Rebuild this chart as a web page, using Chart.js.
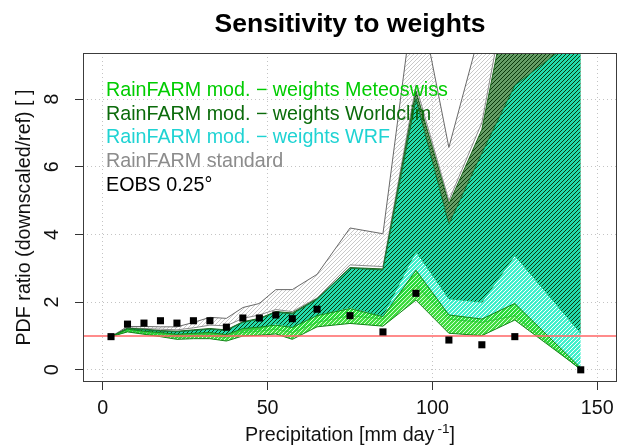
<!DOCTYPE html>
<html>
<head>
<meta charset="utf-8">
<script src="https://cdn.jsdelivr.net/npm/chart.js@4.4.0/dist/chart.umd.min.js"></script>
<style>
  html, body { margin: 0; padding: 0; background: #fff; }
  #wrap { width: 624px; height: 448px; }
</style>
</head>
<body>
<div id="wrap"><canvas id="chart" width="624" height="448"></canvas></div>
<script>
// precipitation classes [mm/day]
const precip = [2.5, 7.5, 12.5, 17.5, 22.5, 27.5, 32.5, 37.5, 42.5, 47.5, 52.5, 57.5, 65, 75, 85, 95, 105, 115, 125, 145];

// EOBS 0.25 reference ratio
const eobs = [0.98, 1.35, 1.38, 1.45, 1.38, 1.45, 1.45, 1.26, 1.53, 1.53, 1.62, 1.51, 1.79, 1.6, 1.12, 2.26, 0.88, 0.74, 0.98, 0.0];

// RainFARM standard (min / max of the ensemble)
const stdLow = [0.98, 1.24, 1.22, 1.2, 1.18, 1.24, 1.32, 1.3, 1.52, 1.62, 1.78, 1.72, 2.12, 3.1, 3.05, 8.4, 5.0, 7.3, 12.5, 16.5];
const stdUp  = [0.98, 1.28, 1.28, 1.27, 1.27, 1.4, 1.55, 1.52, 1.84, 1.96, 2.37, 2.37, 2.82, 4.19, 4.02, 11.5, 6.57, 10.2, 14.0, 18.0];

// RainFARM mod. - weights Worldclim
const wcLow = [0.98, 1.16, 1.1, 1.05, 1.0, 1.02, 1.04, 1.0, 1.15, 1.2, 1.37, 1.27, 1.62, 1.85, 1.6, 3.5, 2.1, 2.0, 3.38, 1.08];
const wcUp  = [0.98, 1.23, 1.2, 1.16, 1.14, 1.18, 1.22, 1.18, 1.42, 1.52, 1.72, 1.68, 2.1, 3.02, 2.98, 8.24, 4.9, 7.1, 12.0, 16.0];

// RainFARM mod. - weights WRF
const wrfLow = [0.98, 1.14, 1.07, 1.01, 0.96, 0.98, 1.0, 0.95, 1.1, 1.14, 1.2, 1.1, 1.4, 1.6, 1.5, 2.5, 1.5, 1.4, 1.6, 0.0];
const wrfUp  = [0.98, 1.21, 1.18, 1.14, 1.12, 1.16, 1.2, 1.16, 1.4, 1.5, 1.7, 1.65, 2.08, 3.0, 2.95, 8.0, 4.3, 6.4, 8.4, 9.9];

// RainFARM mod. - weights Meteoswiss
const msLow = [0.98, 1.12, 1.05, 0.98, 0.9, 0.92, 0.92, 0.85, 1.0, 1.02, 1.06, 0.9, 1.27, 1.37, 1.29, 2.06, 1.08, 1.01, 1.47, 0.02];
const msUp  = [0.98, 1.2, 1.14, 1.1, 1.05, 1.08, 1.1, 1.04, 1.22, 1.26, 1.32, 1.25, 1.6, 1.81, 1.57, 2.94, 1.62, 1.5, 1.96, 0.05];

const xTicks = [0, 50, 100, 150];
const yTicks = [0, 2, 4, 6, 8];
const xLim = [-6, 156];
const yLim = [-0.36, 9.36];
const refLevel = 1;

const legendItems = [
  ['RainFARM mod. \u2212 weights Meteoswiss', '#00cc00'],
  ['RainFARM mod. \u2212 weights Worldclim', '#0b6b0b'],
  ['RainFARM mod. \u2212 weights WRF', '#1fd3d3'],
  ['RainFARM standard', '#8c8c8c'],
  ['EOBS 0.25\u00b0', '#000000']
];

const FONT = '"Liberation Sans", Arial, Helvetica, sans-serif';
const FS = 19.7;
const canvas = document.getElementById('chart');
const ctx = canvas.getContext('2d');

// hatch tile: 4x4 with a 1px "/" stripe
function hatch(bg, stripe) {
  const c = document.createElement('canvas');
  c.width = 4; c.height = 4;
  const g = c.getContext('2d');
  if (bg) { g.fillStyle = bg; g.fillRect(0, 0, 4, 4); }
  for (let i = 0; i < 4; i++) {
    g.clearRect(i, 3 - i, 1, 1);
    if (stripe) { g.fillStyle = stripe; g.fillRect(i, 3 - i, 1, 1); }
  }
  return ctx.createPattern(c, 'repeat');
}

const patGrey = hatch(null, 'rgba(165,165,165,0.6)');
const patWc   = hatch('rgba(75,140,75,0.85)', '#0a3a0a');
const patWrf  = hatch('rgba(20,235,190,0.8)', null);
const patMs   = hatch('rgba(40,215,40,0.88)', 'rgba(170,255,170,0.5)');

function pts(ys) {
  return precip.map(function(x, i) { return { x: x, y: ys[i] }; });
}

function bandLine(ys, color, order, fillPat) {
  return {
    data: pts(ys),
    borderColor: color,
    borderWidth: 1,
    pointRadius: 0,
    tension: 0,
    order: order,
    fill: fillPat ? '-1' : false,
    backgroundColor: fillPat || 'transparent'
  };
}

const decor = {
  id: 'decor',
  beforeDraw(chart) {
    const c = chart.ctx;
    c.save();
    c.fillStyle = '#fff';
    c.fillRect(0, 0, chart.width, chart.height);
    c.restore();
  },
  afterDatasetsDraw(chart) {
    const a = chart.chartArea;
    const c = chart.ctx;
    c.save();
    c.strokeStyle = '#3c3c3c';
    c.lineWidth = 1;
    c.strokeRect(a.left + 0.5, a.top + 0.5, a.right - a.left - 1, a.bottom - a.top - 1);
    c.restore();
  },
  afterDraw(chart) {
    const c = chart.ctx;
    const a = chart.chartArea;
    const ys = chart.scales.y;
    c.save();
    c.fillStyle = '#000';
    // title
    c.font = 'bold 26.5px ' + FONT;
    c.textAlign = 'center';
    c.textBaseline = 'alphabetic';
    c.fillText('Sensitivity to weights', (a.left + a.right) / 2, 32);

    // legend (text only)
    c.font = FS + 'px ' + FONT;
    c.textAlign = 'left';
    legendItems.forEach(function(it, i) {
      c.fillStyle = it[1];
      c.fillText(it[0], 106, 96 + i * 23.7);
    });

    // y tick labels, parallel to axis
    c.fillStyle = '#111';
    yTicks.forEach(function(v) {
      c.save();
      c.translate(53, ys.getPixelForValue(v));
      c.rotate(-Math.PI / 2);
      c.textAlign = 'center';
      c.textBaseline = 'middle';
      c.fillText(String(v), 0, 0);
      c.restore();
    });

    // y axis title
    c.save();
    c.translate(25, (a.top + a.bottom) / 2);
    c.rotate(-Math.PI / 2);
    c.textAlign = 'center';
    c.textBaseline = 'middle';
    c.fillText('PDF ratio (downscaled/ref) [ ]', 0, 0);
    c.restore();

    // x axis title with superscript
    const main = 'Precipitation [mm day';
    const sup = '-1';
    const tail = ']';
    c.font = FS + 'px ' + FONT;
    const w1 = c.measureText(main).width;
    const w3 = c.measureText(tail).width;
    c.font = '13.5px ' + FONT;
    const w2 = c.measureText(sup).width + 3;
    const x0 = (a.left + a.right) / 2 - (w1 + w2 + w3) / 2;
    const base = 441;
    c.textAlign = 'left';
    c.textBaseline = 'alphabetic';
    c.font = FS + 'px ' + FONT;
    c.fillText(main, x0, base);
    c.font = '13.5px ' + FONT;
    c.fillText(sup, x0 + w1 + 3, base - 8);
    c.font = FS + 'px ' + FONT;
    c.fillText(tail, x0 + w1 + w2, base);
    c.restore();
  }
};

new Chart(ctx, {
  type: 'line',
  data: {
    datasets: [
      bandLine(stdLow, '#8a8a8a', 39, null),
      bandLine(stdUp, '#6a6a6a', 40, patGrey),
      bandLine(wcLow, '#1d6b1d', 29, null),
      bandLine(wcUp, '#1a651a', 30, patWc),
      bandLine(wrfLow, '#13804a', 19, null),
      bandLine(wrfUp, '#137a3a', 20, patWrf),
      bandLine(msLow, '#15841a', 9, null),
      bandLine(msUp, '#15841a', 10, patMs),
      {
        data: [{ x: xLim[0], y: refLevel }, { x: xLim[1], y: refLevel }],
        borderColor: '#ff6464',
        borderWidth: 1.6,
        pointRadius: 0,
        fill: false,
        order: 5
      },
      {
        data: pts(eobs),
        showLine: false,
        pointStyle: 'rect',
        pointRadius: 5,
        pointBackgroundColor: '#000',
        pointBorderWidth: 0,
        order: 0
      }
    ]
  },
  options: {
    responsive: false,
    devicePixelRatio: 1,
    animation: false,
    layout: { padding: { top: 53, right: 7, left: 0, bottom: 0 } },
    plugins: {
      legend: { display: false },
      tooltip: { enabled: false },
      title: { display: false }
    },
    scales: {
      x: {
        type: 'linear',
        min: xLim[0],
        max: xLim[1],
        afterBuildTicks: function(s) { s.ticks = xTicks.map(function(v) { return { value: v }; }); },
        afterFit: function(s) { s.height = 66; },
        ticks: {
          font: { family: FONT, size: FS },
          color: '#111',
          padding: 7,
          maxRotation: 0
        },
        grid: {
          color: '#c4c4c4',
          lineWidth: 1,
          tickLength: 8,
          tickColor: '#333',
          tickWidth: 1,
          tickBorderDash: []
        },
        border: { display: false, dash: [1, 3] }
      },
      y: {
        type: 'linear',
        min: yLim[0],
        max: yLim[1],
        afterBuildTicks: function(s) { s.ticks = yTicks.map(function(v) { return { value: v }; }); },
        afterFit: function(s) { s.width = 83; },
        ticks: {
          font: { family: FONT, size: FS },
          color: 'rgba(0,0,0,0)'
        },
        grid: {
          color: '#c4c4c4',
          lineWidth: 1,
          tickLength: 8,
          tickColor: '#333',
          tickWidth: 1,
          tickBorderDash: []
        },
        border: { display: false, dash: [1, 3] }
      }
    }
  },
  plugins: [decor]
});
</script>
</body>
</html>
